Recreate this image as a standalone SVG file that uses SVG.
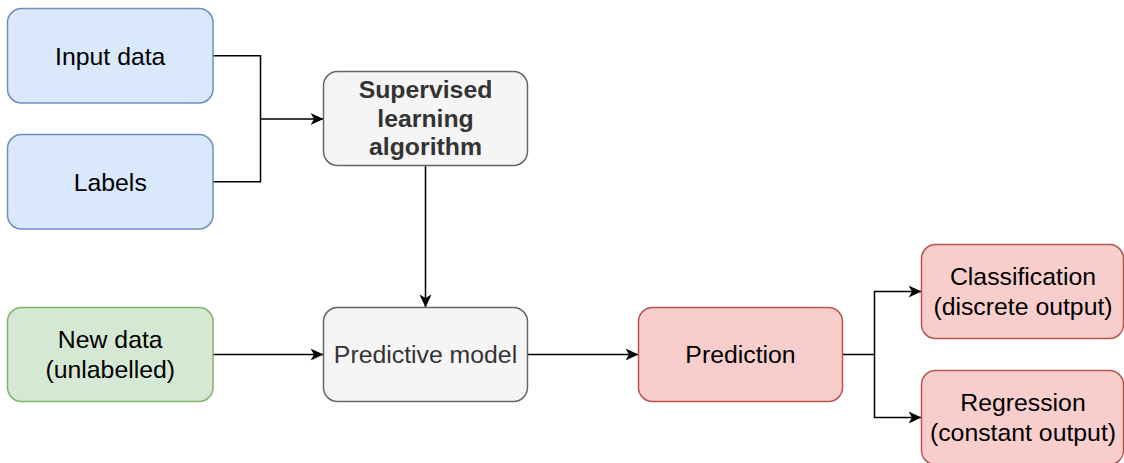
<svg xmlns="http://www.w3.org/2000/svg" width="1124" height="463" viewBox="0 0 1124 463">
  <style>
    .box { stroke-width: 1.5; }
    .blue { fill: #dae8fc; stroke: #6c8ebf; }
    .green { fill: #d5e8d4; stroke: #82b366; }
    .gray { fill: #f5f5f5; stroke: #666666; }
    .red { fill: #f8cecc; stroke: #b85450; }
    .t { font-family: "Liberation Sans", Arial, Helvetica, sans-serif; font-size: 24.8px; text-anchor: middle; fill: #000000; }
    .dark { fill: #333333; }
    .bold { font-weight: bold; }
    .conn { fill: none; stroke: #000000; stroke-width: 1.5; }
  </style>
  <defs>
    <marker id="arrow" markerWidth="14" markerHeight="14" refX="13" refY="7" orient="auto" markerUnits="userSpaceOnUse">
      <path d="M0,1 L13,7 L0,13 L3.5,7 Z" fill="#000000" stroke="none"/>
    </marker>
  </defs>
  <rect width="1124" height="463" fill="#ffffff"/>

  <g id="connectors">
    <path class="conn" d="M213 55.75 H260.5 V119"/>
    <path class="conn" d="M213 181.75 H260.5 V119 H323.5" marker-end="url(#arrow)"/>
    <path class="conn" d="M425.5 165.5 V307.5" marker-end="url(#arrow)"/>
    <path class="conn" d="M213 354.5 H323.5" marker-end="url(#arrow)"/>
    <path class="conn" d="M527.5 354.5 H638.5" marker-end="url(#arrow)"/>
    <path class="conn" d="M842.5 354.5 H874.5 V291.5 H921.5" marker-end="url(#arrow)"/>
    <path class="conn" d="M874.5 354.5 V417.5 H921.5" marker-end="url(#arrow)"/>
  </g>

  <g id="input-data">
    <rect class="box blue" x="7.5" y="8.5" width="205.5" height="94.5" rx="14" ry="14"/>
    <text class="t" x="110.25" y="64.6">Input data</text>
  </g>
  <g id="labels">
    <rect class="box blue" x="7.5" y="134.5" width="205.5" height="94.5" rx="14" ry="14"/>
    <text class="t" x="110.25" y="190.6">Labels</text>
  </g>
  <g id="supervised">
    <rect class="box gray" x="323.5" y="71.5" width="204" height="94" rx="14" ry="14"/>
    <text class="t dark bold" x="425.5" y="98">Supervised</text>
    <text class="t dark bold" x="425.5" y="126.8">learning</text>
    <text class="t dark bold" x="425.5" y="155.3">algorithm</text>
  </g>
  <g id="new-data">
    <rect class="box green" x="7.5" y="307.5" width="205.5" height="94" rx="14" ry="14"/>
    <text class="t" x="110.25" y="347.8">New data</text>
    <text class="t" x="110.25" y="378.3">(unlabelled)</text>
  </g>
  <g id="predictive-model">
    <rect class="box gray" x="323.5" y="307.5" width="204" height="94" rx="14" ry="14"/>
    <text class="t dark" x="425.5" y="363.4">Predictive model</text>
  </g>
  <g id="prediction">
    <rect class="box red" x="638.5" y="307.5" width="204" height="94" rx="14" ry="14"/>
    <text class="t" x="740.5" y="363.4">Prediction</text>
  </g>
  <g id="classification">
    <rect class="box red" x="921.5" y="244.5" width="202" height="94" rx="14" ry="14"/>
    <text class="t" x="1023" y="284.8">Classification</text>
    <text class="t" x="1023" y="315.3">(discrete output)</text>
  </g>
  <g id="regression">
    <rect class="box red" x="921.5" y="370.5" width="202" height="94" rx="14" ry="14"/>
    <text class="t" x="1023" y="410.8">Regression</text>
    <text class="t" x="1023" y="441.3">(constant output)</text>
  </g>
</svg>
